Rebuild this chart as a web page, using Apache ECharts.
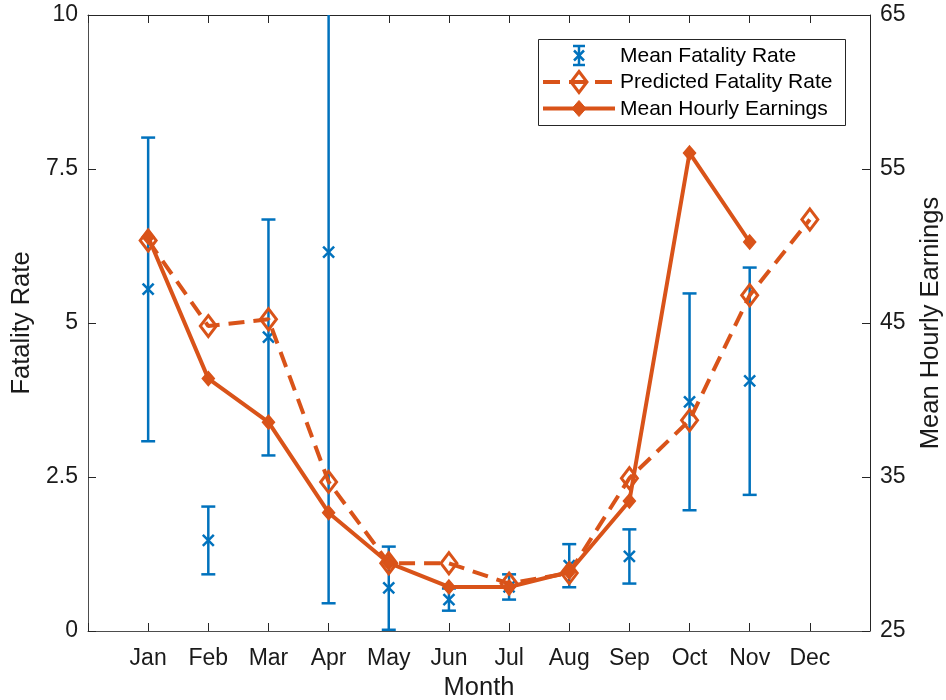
<!DOCTYPE html>
<html>
<head>
<meta charset="utf-8">
<script src="https://cdn.jsdelivr.net/npm/echarts@6/dist/echarts.min.js"></script>
<style>
html,body{margin:0;padding:0;background:#fff;}
#chart{width:946px;height:700px;}
</style>
</head>
<body>
<div id="chart"></div>
<script>
const months = ['Jan','Feb','Mar','Apr','May','Jun','Jul','Aug','Sep','Oct','Nov','Dec'];
const fatalityMean = [5.55, 1.47, 4.77, 6.15, 0.70, 0.51, 0.715, 1.06, 1.21, 3.72, 4.06, null];
const fatalityLow  = [3.08, 0.92, 2.85, 0.45, 0.02, 0.33, 0.51, 0.71, 0.77, 1.96, 2.21, null];
const fatalityHigh = [8.01, 2.02, 6.68, 11.85, 1.37, 0.69, 0.92, 1.41, 1.65, 5.48, 5.90, null];
const predictedRate = [6.34, 4.95, 5.06, 2.42, 1.10, 1.10, 0.77, 0.94, 2.48, 3.42, 5.45, 6.68];
const hourlyEarnings = [50.58, 41.39, 38.56, 32.68, 29.42, 27.86, 27.86, 28.83, 33.44, 56.04, 50.26, null];
const leftTicks = [0, 2.5, 5, 7.5, 10];
const rightTicks = [25, 35, 45, 55, 65];

const BLUE = '#0072BD';
const ORANGE = '#D95319';
const FONT = '"Liberation Sans", Arial, Helvetica, sans-serif';

const cats = [''].concat(months, ['']);
const pad = arr => [null].concat(arr, [null]);

const errData = [];
months.forEach((m, i) => {
  if (fatalityMean[i] != null) errData.push([i + 1, fatalityLow[i], fatalityHigh[i], fatalityMean[i]]);
});

function renderErr(params, api) {
  const xi = api.value(0);
  const pLo = api.coord([xi, api.value(1)]);
  const pHi = api.coord([xi, api.value(2)]);
  const pM = api.coord([xi, api.value(3)]);
  const cs = params.coordSys;
  const top = cs.y, bottom = cs.y + cs.height;
  const x = pM[0];
  const yHi = Math.max(pHi[1], top);
  const yLo = Math.min(pLo[1], bottom);
  const st = {stroke: BLUE, lineWidth: 2.5};
  const cw = 7, mk = 5.5;
  const children = [
    {type: 'line', shape: {x1: x, y1: yLo, x2: x, y2: yHi}, style: st}
  ];
  if (pHi[1] >= top) children.push({type: 'line', shape: {x1: x - cw, y1: pHi[1], x2: x + cw, y2: pHi[1]}, style: st});
  if (pLo[1] <= bottom) children.push({type: 'line', shape: {x1: x - cw, y1: pLo[1], x2: x + cw, y2: pLo[1]}, style: st});
  children.push({type: 'line', shape: {x1: x - mk, y1: pM[1] - mk, x2: x + mk, y2: pM[1] + mk}, style: st});
  children.push({type: 'line', shape: {x1: x - mk, y1: pM[1] + mk, x2: x + mk, y2: pM[1] - mk}, style: st});
  return {type: 'group', children: children};
}

const chart = echarts.init(document.getElementById('chart'), null, {renderer: 'canvas'});

const LX = 579;
const legendGraphics = [
  {type: 'rect', shape: {x: 538.5, y: 39.5, width: 307, height: 86}, style: {fill: '#fff', stroke: '#262626', lineWidth: 1}, z: 100},
  // errorbar icon
  {type: 'line', shape: {x1: LX, y1: 46, x2: LX, y2: 65}, style: {stroke: BLUE, lineWidth: 2.5}, z: 101},
  {type: 'line', shape: {x1: LX - 6, y1: 46, x2: LX + 6, y2: 46}, style: {stroke: BLUE, lineWidth: 2.5}, z: 101},
  {type: 'line', shape: {x1: LX - 6, y1: 65, x2: LX + 6, y2: 65}, style: {stroke: BLUE, lineWidth: 2.5}, z: 101},
  {type: 'line', shape: {x1: LX - 5, y1: 50.5, x2: LX + 5, y2: 60.5}, style: {stroke: BLUE, lineWidth: 2.5}, z: 101},
  {type: 'line', shape: {x1: LX - 5, y1: 60.5, x2: LX + 5, y2: 50.5}, style: {stroke: BLUE, lineWidth: 2.5}, z: 101},
  // dashed icon
  {type: 'line', shape: {x1: 543, y1: 82, x2: 615, y2: 82}, style: {stroke: ORANGE, lineWidth: 4, lineDash: [17, 9]}, z: 101},
  {type: 'polygon', shape: {points: [[LX, 71.5], [LX + 8, 82], [LX, 92.5], [LX - 8, 82]]}, style: {fill: 'none', stroke: ORANGE, lineWidth: 3}, z: 101},
  // solid icon
  {type: 'line', shape: {x1: 543, y1: 108.5, x2: 615, y2: 108.5}, style: {stroke: ORANGE, lineWidth: 4}, z: 101},
  {type: 'polygon', shape: {points: [[LX, 100.5], [LX + 7, 108.5], [LX, 116.5], [LX - 7, 108.5]]}, style: {fill: ORANGE, stroke: ORANGE, lineWidth: 1}, z: 101},
  // texts
  {type: 'text', x: 620, y: 56, style: {text: 'Mean Fatality Rate', font: '21px ' + FONT, fill: '#000', verticalAlign: 'middle'}, z: 101},
  {type: 'text', x: 620, y: 82.5, style: {text: 'Predicted Fatality Rate', font: '21px ' + FONT, fill: '#000', verticalAlign: 'middle'}, z: 101},
  {type: 'text', x: 620, y: 109, style: {text: 'Mean Hourly Earnings', font: '21px ' + FONT, fill: '#000', verticalAlign: 'middle'}, z: 101}
];

const tickStyle = {show: true, inside: true, length: 8, lineStyle: {color: '#262626', width: 1}};

chart.setOption({
  animation: false,
  backgroundColor: '#fff',
  textStyle: {fontFamily: FONT},
  grid: {left: 88, right: 76, top: 15, bottom: 69, containLabel: false, outerBoundsMode: 'none'},
  xAxis: [
    {
      type: 'category', data: cats, boundaryGap: false, position: 'bottom',
      axisLine: {show: true, lineStyle: {color: '#4d4d4d', width: 1}},
      axisTick: Object.assign({interval: 0}, tickStyle),
      axisLabel: {interval: 0, fontSize: 23, color: '#1a1a1a', margin: 16, fontFamily: FONT},
      splitLine: {show: false},
      name: 'Month', nameLocation: 'middle', nameGap: 44,
      nameTextStyle: {fontSize: 25.5, color: '#1a1a1a', fontFamily: FONT}
    },
    {
      type: 'category', data: cats, boundaryGap: false, position: 'top',
      axisLine: {show: true, lineStyle: {color: '#262626', width: 1}},
      axisTick: Object.assign({interval: 0}, tickStyle),
      axisLabel: {show: false},
      splitLine: {show: false}
    }
  ],
  yAxis: [
    {
      type: 'value', min: leftTicks[0], max: leftTicks[leftTicks.length - 1], interval: 2.5, position: 'left',
      axisLine: {show: true, lineStyle: {color: '#4d4d4d', width: 1}},
      axisTick: tickStyle,
      axisLabel: {fontSize: 23, color: '#1a1a1a', margin: 10, fontFamily: FONT},
      splitLine: {show: false},
      name: 'Fatality Rate', nameLocation: 'middle', nameRotate: 90, nameGap: 53,
      nameTextStyle: {fontSize: 25.5, color: '#1a1a1a', fontFamily: FONT}
    },
    {
      type: 'value', min: rightTicks[0], max: rightTicks[rightTicks.length - 1], interval: 10, position: 'right',
      axisLine: {show: true, lineStyle: {color: '#262626', width: 1}},
      axisTick: tickStyle,
      axisLabel: {fontSize: 23, color: '#1a1a1a', margin: 10, fontFamily: FONT},
      splitLine: {show: false},
      name: 'Mean Hourly Earnings', nameLocation: 'middle', nameRotate: 90, nameGap: 48,
      nameTextStyle: {fontSize: 25.5, color: '#1a1a1a', fontFamily: FONT}
    }
  ],
  series: [
    {
      name: 'Mean Fatality Rate', type: 'custom', xAxisIndex: 0, yAxisIndex: 0,
      data: errData, renderItem: renderErr, z: 2,
      encode: {x: 0, y: [1, 2, 3]}
    },
    {
      name: 'Predicted Fatality Rate', type: 'line', xAxisIndex: 0, yAxisIndex: 0,
      data: pad(predictedRate), z: 3,
      symbol: 'diamond', symbolSize: [16, 21], showAllSymbol: true,
      lineStyle: {color: ORANGE, width: 4, type: [16, 9]},
      itemStyle: {color: 'rgba(0,0,0,0)', borderColor: ORANGE, borderWidth: 3}
    },
    {
      name: 'Mean Hourly Earnings', type: 'line', xAxisIndex: 0, yAxisIndex: 1,
      data: pad(hourlyEarnings), z: 4,
      symbol: 'diamond', symbolSize: [12, 14], showAllSymbol: true,
      lineStyle: {color: ORANGE, width: 4},
      itemStyle: {color: ORANGE, borderColor: ORANGE, borderWidth: 1.5}
    }
  ],
  graphic: legendGraphics
});
</script>
</body>
</html>
